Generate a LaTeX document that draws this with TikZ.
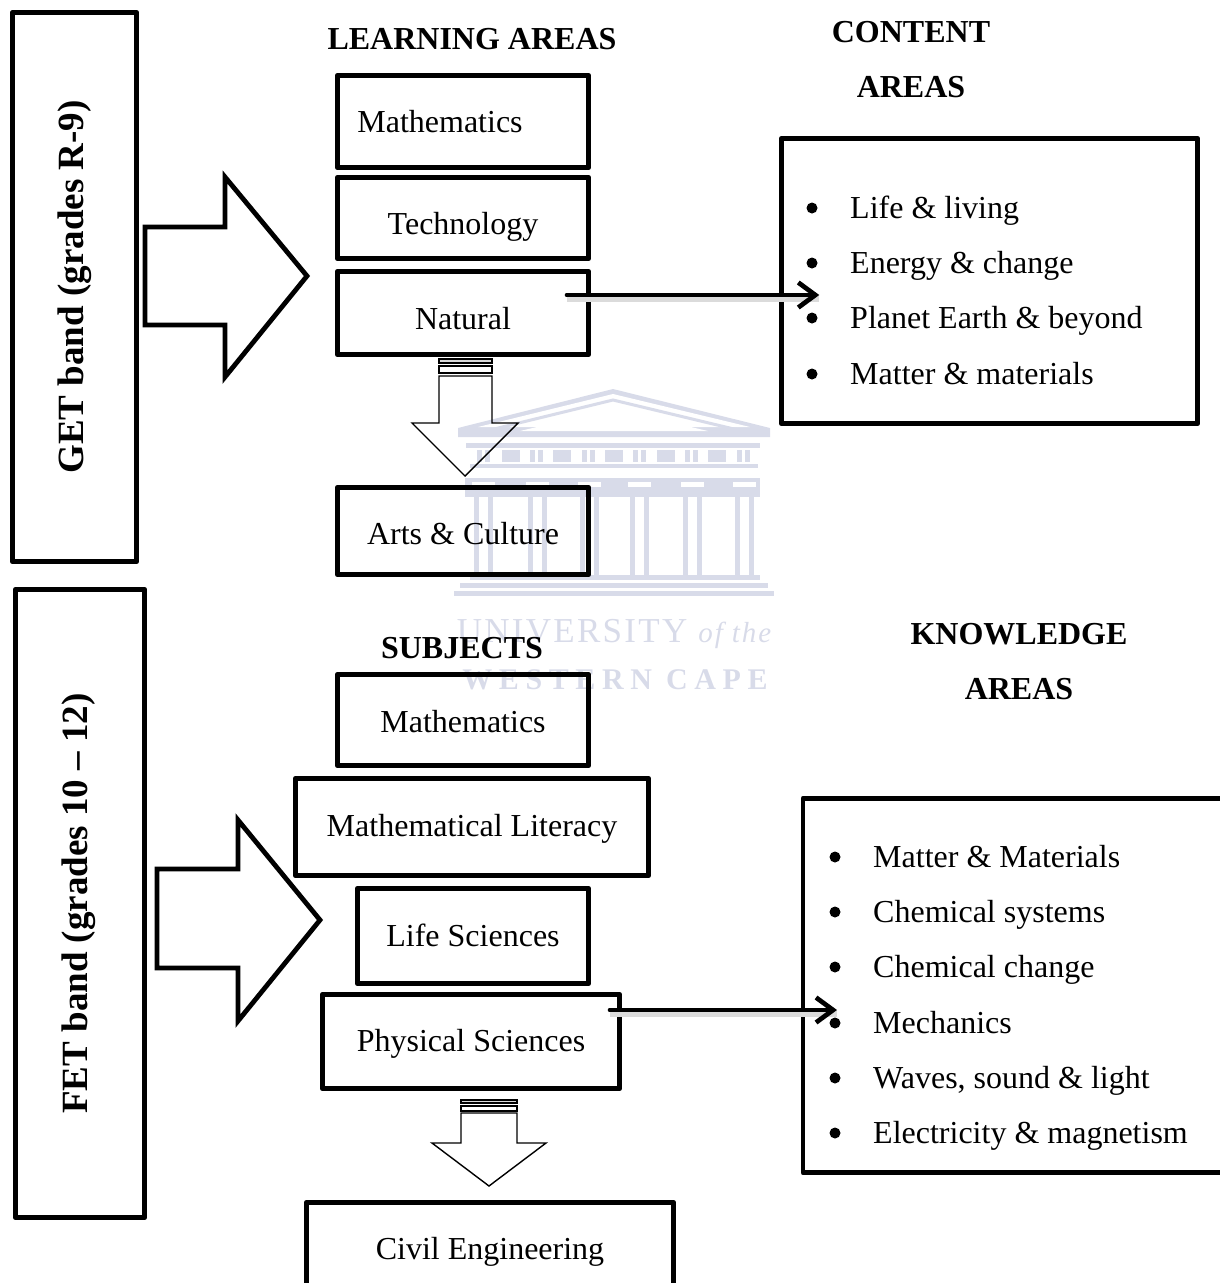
\documentclass[tikz,border=0pt]{standalone}
\usepackage{fontspec}
\setmainfont{Liberation Serif}
\usetikzlibrary{arrows.meta}
\definecolor{crest}{RGB}{216,219,233}
\newcommand\body{\fontsize{32}{38}\selectfont}
\newcommand\bandfont{\fontsize{37}{44}\selectfont\bfseries}
\tikzset{
  box/.style={draw, line width=4.8pt, line join=round, minimum width=#1, inner sep=0pt, outer sep=0pt},
  base/.style={text height=2*#1, text depth=0pt},
  bandbox/.style={draw, line width=4.8pt, line join=round, rotate=90, inner sep=0pt, outer sep=0pt, font=\bandfont},
  head/.style={font=\body\bfseries, inner sep=0pt},
  item/.style={font=\body, anchor=base west, inner sep=0pt, yshift=-10pt},
  dot/.style={circle, fill, minimum size=11pt, inner sep=0pt},
  bigarrow/.style={draw, line width=4.8pt, fill=white},
  downarrow/.style={draw, line width=1.4pt},
  link/.style={line width=4.7pt, line cap=round, -{Straight Barb[length=17pt,width=25pt]},
    preaction={draw=black!14, -, line width=6pt, transform canvas={yshift=-3.5pt}}},
}
\begin{document}
\begin{tikzpicture}[x=1pt, y=-1pt]

  \useasboundingbox (0,0) rectangle (1220,1283);
  \clip (0,0) rectangle (1220,1283);

  % crest behind the chart
  \begin{scope}[crest]
    \fill (458,428) -- (613,389) -- (770,428) -- (770,437) -- (458,437) -- cycle;
    \fill[white] (478,427) -- (613,394) -- (750,427) -- cycle;
    \draw[line width=3pt] (490,430) -- (613,400) -- (738,430);
    \fill[white] (520,431) -- (613,409) -- (708,431) -- cycle;
    \fill (466,443) rectangle (760,448);
    \foreach \x in {502,553,605,657,708}
      \fill (\x,450) rectangle +(18,12);
    \foreach \x in {477,530,582,633,685,737}{
      \fill (\x,450) rectangle +(5,12);
      \fill (\x+8,450) rectangle +(5,12);
    }
    \fill (470,464) rectangle (758,468);
    \fill (465,478) rectangle (760,497);
    \foreach \x in {474,528,580,630,683,735}{
      \fill[white] (\x-2,482) rectangle +(23,5);
      \fill (\x,487) rectangle +(5,88);
      \fill (\x+14,487) rectangle +(5,88);
    }
    \fill (470,575) rectangle (760,580);
    \fill (460,583) rectangle (768,588);
    \fill (454,591) rectangle (774,596);
    \node[inner sep=0pt, text=crest, font=\fontsize{35}{44}\selectfont] (crestup) at (615,634)
      {\addfontfeature{LetterSpace=6.5}UNIVERSITY \textit{\fontsize{29}{36}\selectfont of the}};
    \node[inner sep=0pt, text=crest, font=\fontsize{30}{44}\selectfont\bfseries] (crestlow) at (615,680)
      {\addfontfeature{LetterSpace=22}WESTERN CAPE};
  \end{scope}

  % bands
  \node[bandbox, minimum width=549.5pt, minimum height=124.5pt] (getband) at (74.5,287) {GET band (grades R-9)};
  \node[bandbox, minimum width=628.5pt, minimum height=129.5pt, base=7.5pt] (fetband) at (80,903.5) {FET band (grades 10 -- 12)};

  % big arrows
  \draw[bigarrow] (145,227) -- (225,227) -- (225,177) -- (307,276) -- (225,377) -- (225,325) -- (145,325) -- cycle;
  \draw[bigarrow] (157,869) -- (238,869) -- (238,820) -- (320,920) -- (238,1021) -- (238,968) -- (157,968) -- cycle;

  % headers
  \node[head] (learning) at (472,39) {LEARNING AREAS};
  \node[head] (contenta) at (911,32) {CONTENT};
  \node[head] (contentb) at (911,87) {AREAS};
  \node[head] (subjects) at (462,648) {SUBJECTS};
  \node[head] (knowa) at (1019,634) {KNOWLEDGE};
  \node[head] (knowb) at (1019,689) {AREAS};

  % boxes
  \begin{scope}[every node/.append style={font=\body}]
    \node[box=251.5pt, minimum height=92.5pt, base=11pt] (maths) at (463,121.5) {Mathematics\kern46pt};
    \node[box=251.5pt, minimum height=81.5pt, base=16.5pt] (tech) at (463,218) {Technology};
    \node[box=251.5pt, minimum height=83.5pt, base=16pt] (natural) at (463,313) {Natural};
    \node[box=251.5pt, minimum height=87.5pt, base=13.5pt] (arts) at (463,531) {Arts \& Culture};
    \node[box=251.5pt, minimum height=91.5pt, base=12pt] (mathsb) at (463,720) {Mathematics};
    \node[box=353.5pt, minimum height=97.5pt, base=9pt] (literacy) at (472,827) {Mathematical Literacy};
    \node[box=231.5pt, minimum height=95.5pt, base=10pt] (life) at (473,936) {Life Sciences};
    \node[box=297.5pt, minimum height=94.5pt, base=9.5pt] (physical) at (471,1041.5) {Physical Sciences};
    \node[box=367.5pt, minimum height=91.5pt, base=11.5pt] (civil) at (490,1248) {Civil Engineering};
  \end{scope}
  \node[box=416.5pt, minimum height=285.5pt] (content) at (989.5,281) {};
  \node[box=430pt, minimum height=374.5pt] (knowledge) at (1018,985.5) {};

  \foreach \y/\t [count=\i] in {208/Life \& living, 263/Energy \& change, 318/Planet Earth \& beyond, 374/Matter \& materials}{
    \node[dot] (cdot\i) at (812,\y) {};
    \node[item] (citem\i) at (850,\y) {\t};
  }
  \foreach \y/\t [count=\i] in {857/Matter \& Materials, 912/Chemical systems, 967/Chemical change, 1023/Mechanics, 1078/{Waves, sound \& light}, 1133/Electricity \& magnetism}{
    \node[dot] (kdot\i) at (835,\y) {};
    \node[item] (kitem\i) at (873,\y) {\t};
  }

  % striped arrows
  \draw[downarrow, fill=black!15] (439,359) rectangle (492,363);
  \draw[downarrow] (439,366) rectangle (492,373);
  \draw[downarrow] (439,376) -- (439,423) -- (412,423) -- (465,476) -- (518,423) -- (492,423) -- (492,376) -- cycle;
  \draw[downarrow, fill=black!15] (461,1100) rectangle (517,1103);
  \draw[downarrow] (461,1106) rectangle (517,1111);
  \draw[downarrow] (461,1113) -- (461,1143) -- (432,1143) -- (489,1186) -- (546,1143) -- (517,1143) -- (517,1113) -- cycle;

  \draw[link] ([xshift=104pt,yshift=18pt]natural.center) -- ([xshift=38pt,yshift=-14pt]content.west);
  \draw[link] ([xshift=139pt,yshift=31.5pt]physical.center) -- ([xshift=34pt,yshift=-24.5pt]knowledge.west);

\end{tikzpicture}
\end{document}
